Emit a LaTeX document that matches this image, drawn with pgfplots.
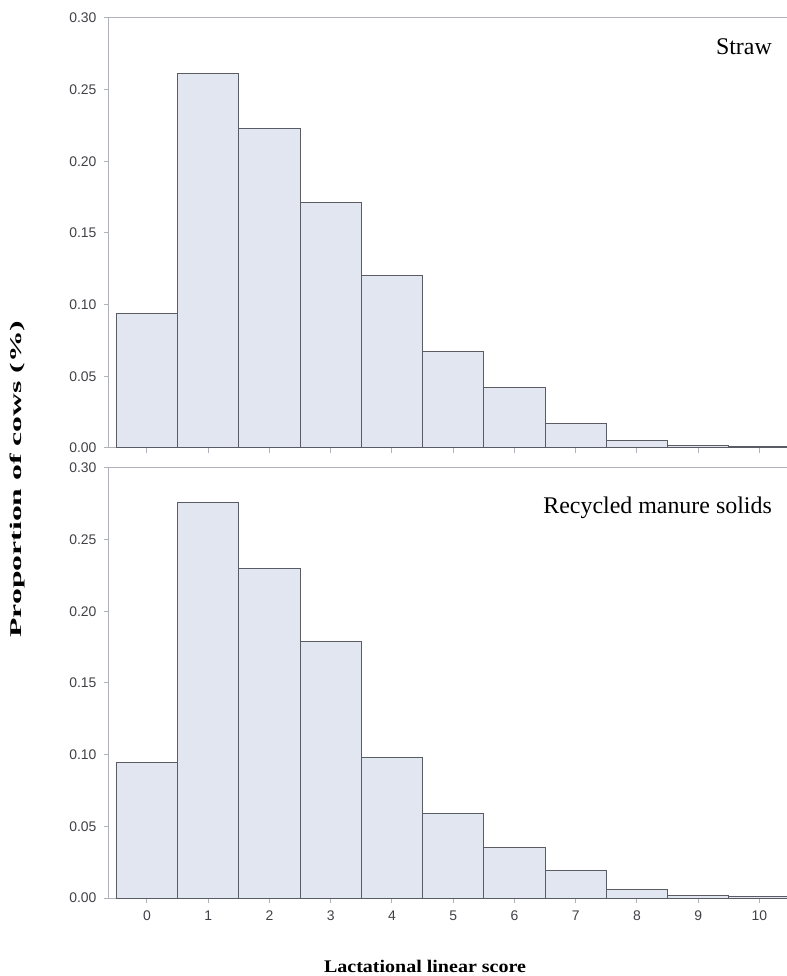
\documentclass[border=0pt]{standalone}
\usepackage{fontspec}
\setmainfont{Liberation Serif}
\newfontfamily\arialf{Liberation Sans}
\usepackage{graphicx}
\usepackage{pgfplots}
\pgfplotsset{compat=1.18}
\definecolor{barfill}{RGB}{225,230,240}
\definecolor{baredge}{RGB}{90,92,100}
\definecolor{axisgray}{RGB}{175,179,185}
\definecolor{tickgray}{RGB}{65,65,70}
\pgfplotsset{
  panel/.style={
    scale only axis,
    width=678bp, height=430bp,
    xmin=-0.62, xmax=10.45,
    ymin=0, ymax=0.30,
    ytick={0,0.05,0.10,0.15,0.20,0.25,0.30},
    xtick={0,1,...,10},
    axis y line*=left,
    axis x line*=box,
    xtick pos=left, ytick pos=left,
    tick align=outside,
    major tick length=5bp,
    axis line style={axisgray, line width=1bp},
    every tick/.style={axisgray, line width=1bp},
    /pgf/number format/assume math mode=true,
    yticklabel style={xshift=-4bp, /pgf/number format/.cd, fixed, fixed zerofill, precision=2},
    xticklabel style={yshift=-4bp},
    tick label style={font=\arialf\fontsize{14}{16}\selectfont, text=tickgray},
    ybar, bar width=1, bar shift=0pt,
  },
  barsty/.style={fill=barfill, draw=baredge, line width=1bp},
}
\begin{document}
\begin{tikzpicture}
% top panel: Straw
\begin{axis}[panel, at={(0bp,450bp)}, anchor=south west, xticklabels={}]
\addplot[barsty] coordinates {
(0,0.094) (1,0.261) (2,0.223) (3,0.171) (4,0.120) (5,0.067)
(6,0.042) (7,0.017) (8,0.005) (9,0.002) (10,0.001)};
\end{axis}
% bottom panel: Recycled manure solids
\begin{axis}[panel, at={(0bp,0bp)}, anchor=south west]
\addplot[barsty] coordinates {
(0,0.0945) (1,0.276) (2,0.230) (3,0.179) (4,0.098) (5,0.059)
(6,0.035) (7,0.019) (8,0.006) (9,0.002) (10,0.001)};
\end{axis}
\node[anchor=base east, inner sep=0pt, font=\fontsize{24}{26}\selectfont] at (663bp,843bp) {Straw};
\node[anchor=base east, inner sep=0pt, font=\fontsize{24}{26}\selectfont] at (663bp,384bp) {Recycled manure solids};
\node[rotate=90, inner sep=0pt] at (-92bp,419bp) {\resizebox*{317bp}{15bp}{\bfseries Proportion of cows (\%)}};
\node[anchor=base, inner sep=0pt] at (316bp,-74bp) {\resizebox{202bp}{12.3bp}{\bfseries Lactational linear score}};
\pgfresetboundingbox
\useasboundingbox (-109bp,-78bp) rectangle (678bp,898bp);
\end{tikzpicture}
\end{document}
